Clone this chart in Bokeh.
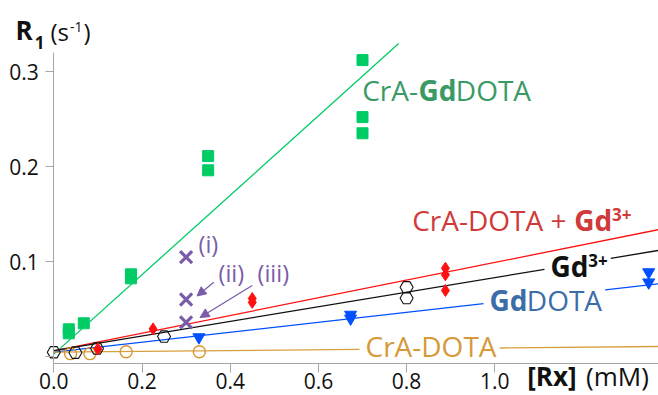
import numpy as np
from bokeh.plotting import figure
from bokeh.models import Range1d, FixedTicker, Label, Arrow, NormalHead, NumeralTickFormatter
from bokeh.embed import file_html
from bokeh.resources import INLINE

# ---------------- data ----------------
# CrA-GdDOTA (green squares)
crgd_x = [0.034, 0.034, 0.068, 0.175, 0.175, 0.35, 0.35, 0.70, 0.70, 0.70]
crgd_y = [0.0286, 0.0244, 0.035, 0.0865, 0.0823, 0.211, 0.196, 0.312, 0.252, 0.235]
# CrA-DOTA + Gd3+ (red diamonds)
crgd3_x = [0.10, 0.225, 0.45, 0.45, 0.888, 0.888, 0.888]
crgd3_y = [0.008, 0.029, 0.061, 0.057, 0.0929, 0.086, 0.0695]
# Gd3+ (open black hexagons)
gd3_x = [0.0, 0.049, 0.098, 0.25, 0.80, 0.80]
gd3_y = [0.0045, 0.004, 0.0084, 0.021, 0.0729, 0.0614]
# GdDOTA (blue inverted triangles)
gddota_x = [0.329, 0.673, 0.673, 1.349, 1.349]
gddota_y = [0.0203, 0.044, 0.040, 0.0887, 0.078]
# CrA-DOTA (open orange circles)
cradota_x = [0.038, 0.082, 0.164, 0.33]
cradota_y = [0.003, 0.003, 0.005, 0.005]
# purple crosses (i), (ii), (iii)
pur_x = [0.30, 0.30, 0.30]
pur_y = [0.1045, 0.060, 0.036]
pur_labels = ["(i)", "(ii)", "(iii)"]

# linear fits: intercept, slope, x-extent (None = to the right edge)
fit_green = (0.0025, 0.418, 0.782)
fit_red = (0.006, 0.093, None)
fit_black = (0.0062, 0.0769, None)
fit_blue = (0.0045, 0.0525, None)
fit_orange = (0.0045, 0.0044, None)

x_ticks = [0.0, 0.2, 0.4, 0.6, 0.8, 1.0]
y_ticks = [0.0, 0.1, 0.2, 0.3]

# ---------------- colours ----------------
GREEN = "#00cc66"
GREEN_T = "#3a9a66"
RED = "#ff1010"
RED_T = "#d03a3a"
BLUE = "#0050ff"
BLUE_T = "#3b6ea8"
ORANGE = "#d9952a"
ORANGE_L = "#d6a040"
ORANGE_T = "#d69a3a"
PURPLE = "#7b5ca8"
AXIS = "#a6a6a6"
FONT = "Open Sans"

# ---------------- geometry (frame covers the whole canvas) ----------------
W, H = 658, 395
X0, PXX = 53.3, 441.0           # pixel of x=0, px per x unit
Y0, PXY = 356.0, 950.0          # pixel of y=0, px per y unit
x_start = -X0 / PXX
x_end = (W - X0) / PXX
y_end = Y0 / PXY
y_start = -(H - Y0) / PXY
y_axis_pos = -7 / PXY           # where the x axis line sits

p = figure(width=W, height=H, x_range=Range1d(x_start, x_end), y_range=Range1d(y_start, y_end),
           output_backend="svg", toolbar_location=None,
           min_border_left=0, min_border_right=0, min_border_top=0, min_border_bottom=0)
p.grid.visible = False
p.outline_line_color = None
p.background_fill_color = "white"
p.border_fill_color = "white"

for ax in (p.xaxis[0], p.yaxis[0]):
    ax.axis_line_color = AXIS
    ax.axis_line_width = 1
    ax.major_tick_line_color = AXIS
    ax.major_tick_in = 0
    ax.minor_tick_in = 0
    ax.minor_tick_out = 0
    ax.major_label_text_font = FONT
    ax.major_label_text_font_size = "21px"
    ax.major_label_text_color = "#111111"
    ax.formatter = NumeralTickFormatter(format="0.0")

xa = p.xaxis[0]
xa.ticker = FixedTicker(ticks=x_ticks)
xa.major_tick_out = 9
xa.major_label_standoff = 0
xa.fixed_location = y_axis_pos
xa.bounds = (0, x_end)

ya = p.yaxis[0]
ya.ticker = FixedTicker(ticks=y_ticks)
ya.major_tick_out = 8
ya.major_label_standoff = 7
ya.fixed_location = 0
ya.bounds = (y_axis_pos, 0.32)
ya.major_label_overrides = {0: ""}

# ---------------- text helpers ----------------
REG = {' ': 0.26, '(': 0.294, ')': 0.294, '+': 0.572, '-': 0.322, '.': 0.266, 'A': 0.633,
       'C': 0.631, 'D': 0.722, 'M': 0.903, 'O': 0.781, 'R': 0.635, 'T': 0.556, 'd': 0.613,
       'i': 0.253, 'm': 0.93, 'r': 0.408, 's': 0.477, 'x': 0.513, '1': 0.572, '3': 0.572}
BOLD = {'G': 0.70, 'd': 0.615, 'R': 0.68, 'x': 0.58, '[': 0.33, ']': 0.33, '1': 0.572,
        '3': 0.572, '+': 0.572}
MID = 0.39   # distance (in em) from the baseline up to the middle of the text box


def text_width(t, size, bold):
    tab = BOLD if bold else REG
    return sum(tab.get(c, 0.6) for c in t) * size


def px_x(px):
    return (px - X0) / PXX


def px_y(py):
    return (Y0 - py) / PXY


def add_text(left_px, base_px, parts, color):
    """parts: (text, size_px, bold, raise_px, gap_px_before); positions in picture pixels"""
    off = 0.0
    for t, size, bold, dy, gap in parts:
        off += gap
        p.add_layout(Label(x=px_x(left_px), y=px_y(base_px - dy - MID * size), x_offset=off,
                           text=t, text_font=FONT, text_font_size=f"{size}px",
                           text_font_style="bold" if bold else "normal",
                           text_color=color, text_baseline="middle", text_align="left"))
        off += text_width(t, size, bold)
    return off


# series labels (left edge / baseline in picture pixels, from the reference)
lab_green = (361.7, 100)
lab_red = (411.7, 230)
lab_black = (550, 276.7)
lab_blue = (489, 310)
lab_orange = (365, 356)

add_text(*lab_green, [("CrA-", 28, False, 0, 0), ("Gd", 28, True, 0, 0.5), ("DOTA", 28, False, 0, 0.5)], GREEN_T)
add_text(*lab_red, [("CrA-DOTA +", 28, False, 0, 0), ("Gd", 28, True, 0, 7.5), ("3+", 17, True, 9.5, 1)], RED_T)
w_black = add_text(*lab_black, [("Gd", 28, True, 0, 0), ("3+", 17, True, 9.7, 1)], "#111111")
w_blue = add_text(*lab_blue, [("Gd", 28, True, 0, 0), ("DOTA", 28, False, 0, 0.5)], BLUE_T)
w_orange = add_text(*lab_orange, [("CrA-DOTA", 28, False, 0, 0)], ORANGE_T)

# axis titles
add_text(15, 40, [("R", 26, True, 0, 0), ("1", 17, True, -9, 1.5), ("(s", 24, False, 0, 6),
                  ("-1", 14, False, 8, 1), (")", 24, False, 0, 1)], "#111111")
add_text(526.7, 386, [("[Rx]", 26, True, 0, 0), ("(mM)", 26, False, 0, 9)], "#111111")


# ---------------- fit lines (broken where a label sits) ----------------
def fit_segments(fit, gap=None):
    b, m, xmax = fit
    xmax = x_end if xmax is None else xmax
    xs = [[0.0, xmax]] if gap is None else [[0.0, gap[0]], [gap[1], xmax]]
    return xs, [[b + m * a for a in seg] for seg in xs]


def gap_for(lab, width_px):
    return (px_x(lab[0] - 6), px_x(lab[0] + width_px + 3))


for fit, col, gap in [(fit_green, GREEN, None), (fit_red, RED, None),
                      (fit_black, "#111111", gap_for(lab_black, w_black)),
                      (fit_blue, BLUE, gap_for(lab_blue, w_blue)),
                      (fit_orange, ORANGE_L, gap_for(lab_orange, w_orange))]:
    xs, ys = fit_segments(fit, gap)
    p.multi_line(xs, ys, line_color=col, line_width=1.3)

# ---------------- markers ----------------
p.scatter(cradota_x, cradota_y, marker="circle", size=12, fill_color=None, line_color=ORANGE, line_width=1.4)
p.scatter(gd3_x, gd3_y, marker="hex", size=13, fill_color=None, line_color="#111111", line_width=1.1)
p.scatter(gddota_x, gddota_y, marker="inverted_triangle", size=12, fill_color=BLUE, line_color=BLUE)
p.scatter(crgd3_x, crgd3_y, marker="diamond", size=12, fill_color=RED, line_color=RED)
p.scatter(crgd_x, crgd_y, marker="square", size=11, fill_color=GREEN, line_color=GREEN)
p.scatter(pur_x, pur_y, marker="x", size=17, line_color=PURPLE, line_width=3.2)

# purple labels and arrows
pur_lab_pos = [(198, 253), (218, 281.5), (257, 281.5)]
for (lx, ly), t in zip(pur_lab_pos, pur_labels):
    add_text(lx, ly, [(t, 23.5, False, 0, 0)], PURPLE)

arrows = [((213.3, 281.7), (196.5, 295.5)),
          ((251.7, 285), (199.5, 317))]
for (sx, sy), (ex, ey) in arrows:
    p.add_layout(Arrow(x_start=px_x(sx), y_start=px_y(sy), x_end=px_x(ex), y_end=px_y(ey),
                       line_color=PURPLE, line_width=1.3,
                       end=NormalHead(size=9, fill_color=PURPLE, line_color=PURPLE)))

open("out.html", "w").write(file_html(p, INLINE))
